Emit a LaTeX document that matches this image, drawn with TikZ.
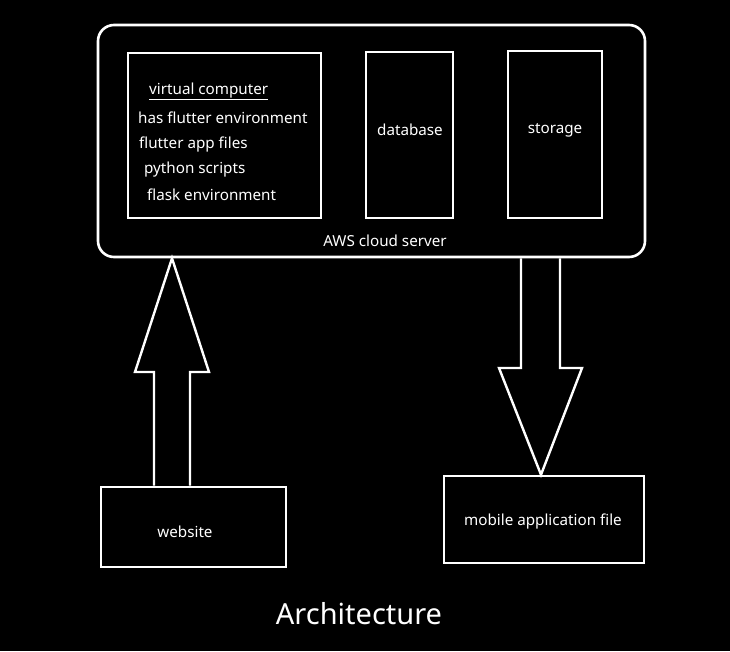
\documentclass[tikz,border=0pt]{standalone}
\usepackage{fontspec}
\setmainfont{Noto Sans}
\usetikzlibrary{calc}
\begin{document}
\begin{tikzpicture}[x=1pt,y=-1pt,
  box/.style={draw=white,line width=2.6pt,rectangle,inner sep=0pt},
  lbl/.style={text=white,font=\fontsize{15.2}{18}\selectfont,inner sep=0pt},
  blk/.style={draw=white,line width=2.4pt,line join=miter}]
\fill[black] (0,0) rectangle (730,651);
\useasboundingbox (0,0) rectangle (730,651);
% containers
\node[box,rounded corners=16pt,minimum width=547pt,minimum height=232pt] (aws) at (371.5,141) {};
\node[box,minimum width=193pt,minimum height=165pt] (vc) at (224.5,135.5) {};
\node[box,minimum width=87pt,minimum height=166pt] (db) at (409.5,135) {};
\node[box,minimum width=94pt,minimum height=167pt] (st) at (555,134.5) {};
\node[box,minimum width=185pt,minimum height=80pt] (web) at (193.5,527) {};
\node[box,minimum width=200pt,minimum height=87pt] (mob) at (544,519.5) {};
% texts
\node[lbl,anchor=base west] (t1) at (149,94) {\underline{virtual computer}};
\node[lbl,anchor=base west] (t2) at (138,123) {has flutter environment};
\node[lbl,anchor=base west] (t3) at (139,148) {flutter app files};
\node[lbl,anchor=base west] (t4) at (144,173) {python scripts};
\node[lbl,anchor=base west] (t5) at (147,200) {flask environment};
\node[lbl,anchor=base] (tdb) at (410,135) {database};
\node[lbl,anchor=base] (tst) at (555,133) {storage};
\node[lbl,anchor=base] (taws) at (385,246) {AWS cloud server};
\node[lbl,anchor=base] (tweb) at (185,537) {website};
\node[lbl,anchor=base] (tmob) at (543,525) {mobile application file};
\node[text=white,font=\fontsize{29}{34}\selectfont,inner sep=0pt,anchor=base] (title) at (359,624) {Architecture};
% up block arrow: website -> aws
\coordinate (uptip) at (172,0 |- aws.south);
\draw[blk] (154,0 |- web.north) -- (154,372) -- (135,372) -- (uptip) -- (209,372) -- (190,372) -- (190,0 |- web.north);
% down block arrow: aws -> mobile
\coordinate (dntip) at (541,0 |- mob.north);
\draw[blk] (521,0 |- aws.south) -- (521,368) -- (499,368) -- (dntip) -- (582,368) -- (560,368) -- (560,0 |- aws.south);
\end{tikzpicture}
\end{document}
